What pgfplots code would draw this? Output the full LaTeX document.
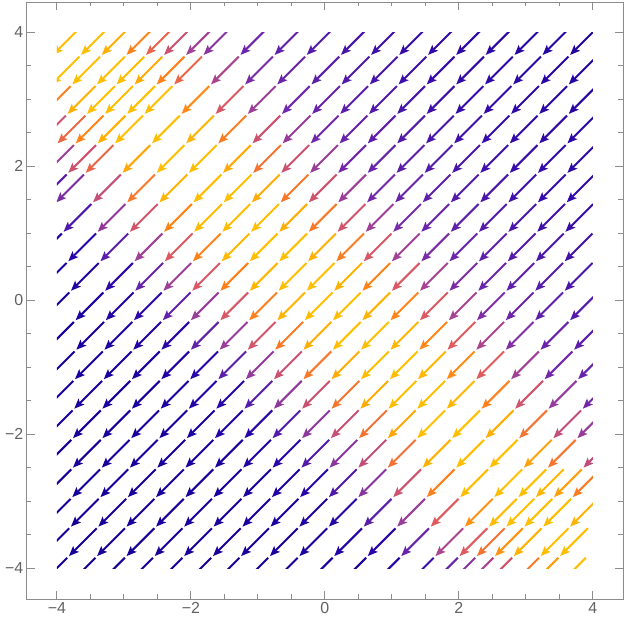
\documentclass[border=0pt]{standalone}
\usepackage{fontspec}
\setmainfont{Liberation Sans}
\usepackage{pgfplots}
\pgfplotsset{compat=1.18}
\usepackage{pgfplotstable}
\usetikzlibrary{arrows.meta}

% arrow tips of the stream lines: x y (tip) and m = x+y at the segment middle
\pgfplotstableread{
x y m
-4.06 3.66 0.00
-4.08 3.22 -0.46
-3.64 3.66 0.42
-4.21 2.78 -1.03
-3.77 3.22 -0.15
-3.33 3.66 0.73
-4.28 2.34 -1.54
-3.84 2.78 -0.66
-3.40 3.22 0.22
-2.96 3.66 1.10
-3.99 2.34 -1.25
-3.55 2.78 -0.37
-3.11 3.22 0.51
-2.67 3.66 1.39
-4.16 1.90 -1.86
-3.72 2.34 -0.98
-3.28 2.78 -0.10
-2.84 3.22 0.78
-2.40 3.66 1.66
-4.27 1.46 -2.41
-3.83 1.90 -1.53
-3.39 2.34 -0.65
-2.95 2.78 0.23
-2.51 3.22 1.11
-2.07 3.66 1.99
-4.01 1.46 -2.15
-3.57 1.90 -1.27
-3.13 2.34 -0.39
-2.69 2.78 0.49
-2.25 3.22 1.37
-1.81 3.66 2.25
-4.34 0.58 -3.36
-3.90 1.02 -2.48
-3.46 1.46 -1.60
-3.02 1.90 -0.72
-2.58 2.34 0.16
-2.14 2.78 1.04
-1.70 3.22 1.92
-1.26 3.66 2.80
-4.27 0.14 -3.73
-3.83 0.58 -2.85
-3.39 1.02 -1.97
-2.95 1.46 -1.09
-2.51 1.90 -0.21
-2.07 2.34 0.67
-1.63 2.78 1.55
-1.19 3.22 2.43
-0.75 3.66 3.31
-4.23 -0.30 -4.13
-3.79 0.14 -3.25
-3.35 0.58 -2.37
-2.91 1.02 -1.49
-2.47 1.46 -0.61
-2.03 1.90 0.27
-1.59 2.34 1.15
-1.15 2.78 2.03
-0.71 3.22 2.91
-0.27 3.66 3.79
-4.16 -0.74 -4.50
-3.72 -0.30 -3.62
-3.28 0.14 -2.74
-2.84 0.58 -1.86
-2.40 1.02 -0.98
-1.96 1.46 -0.10
-1.52 1.90 0.78
-1.08 2.34 1.66
-0.64 2.78 2.54
-0.20 3.22 3.42
0.24 3.66 4.30
-4.15 -1.18 -4.93
-3.71 -0.74 -4.05
-3.27 -0.30 -3.17
-2.83 0.14 -2.29
-2.39 0.58 -1.41
-1.95 1.02 -0.53
-1.51 1.46 0.35
-1.07 1.90 1.23
-0.63 2.34 2.11
-0.19 2.78 2.99
0.25 3.22 3.87
0.69 3.66 4.75
-4.17 -1.62 -5.39
-3.73 -1.18 -4.51
-3.29 -0.74 -3.63
-2.85 -0.30 -2.75
-2.41 0.14 -1.87
-1.97 0.58 -0.99
-1.53 1.02 -0.11
-1.09 1.46 0.77
-0.65 1.90 1.65
-0.21 2.34 2.53
0.23 2.78 3.41
0.67 3.22 4.29
1.11 3.66 5.17
-4.18 -2.06 -5.84
-3.74 -1.62 -4.96
-3.30 -1.18 -4.08
-2.86 -0.74 -3.20
-2.42 -0.30 -2.32
-1.98 0.14 -1.44
-1.54 0.58 -0.56
-1.10 1.02 0.32
-0.66 1.46 1.20
-0.22 1.90 2.08
0.22 2.34 2.96
0.66 2.78 3.84
1.10 3.22 4.72
1.54 3.66 5.60
-4.20 -2.50 -6.30
-3.76 -2.06 -5.42
-3.32 -1.62 -4.54
-2.88 -1.18 -3.66
-2.44 -0.74 -2.78
-2.00 -0.30 -1.90
-1.56 0.14 -1.02
-1.12 0.58 -0.14
-0.68 1.02 0.74
-0.24 1.46 1.62
0.20 1.90 2.50
0.64 2.34 3.38
1.08 2.78 4.26
1.52 3.22 5.14
1.96 3.66 6.02
-4.20 -2.94 -6.74
-3.76 -2.50 -5.86
-3.32 -2.06 -4.98
-2.88 -1.62 -4.10
-2.44 -1.18 -3.22
-2.00 -0.74 -2.34
-1.56 -0.30 -1.46
-1.12 0.14 -0.58
-0.68 0.58 0.30
-0.24 1.02 1.18
0.20 1.46 2.06
0.64 1.90 2.94
1.08 2.34 3.82
1.52 2.78 4.70
1.96 3.22 5.58
2.40 3.66 6.46
-4.21 -3.38 -7.19
-3.77 -2.94 -6.31
-3.33 -2.50 -5.43
-2.89 -2.06 -4.55
-2.45 -1.62 -3.67
-2.01 -1.18 -2.79
-1.57 -0.74 -1.91
-1.13 -0.30 -1.03
-0.69 0.14 -0.15
-0.25 0.58 0.73
0.19 1.02 1.61
0.63 1.46 2.49
1.07 1.90 3.37
1.51 2.34 4.25
1.95 2.78 5.13
2.39 3.22 6.01
2.83 3.66 6.89
-4.23 -3.82 -7.65
-3.79 -3.38 -6.77
-3.35 -2.94 -5.89
-2.91 -2.50 -5.01
-2.47 -2.06 -4.13
-2.03 -1.62 -3.25
-1.59 -1.18 -2.37
-1.15 -0.74 -1.49
-0.71 -0.30 -0.61
-0.27 0.14 0.27
0.17 0.58 1.15
0.61 1.02 2.03
1.05 1.46 2.91
1.49 1.90 3.79
1.93 2.34 4.67
2.37 2.78 5.55
2.81 3.22 6.43
3.25 3.66 7.31
-4.26 -4.26 -8.12
-3.82 -3.82 -7.24
-3.38 -3.38 -6.36
-2.94 -2.94 -5.48
-2.50 -2.50 -4.60
-2.06 -2.06 -3.72
-1.62 -1.62 -2.84
-1.18 -1.18 -1.96
-0.74 -0.74 -1.08
-0.30 -0.30 -0.20
0.14 0.14 0.68
0.58 0.58 1.56
1.02 1.02 2.44
1.46 1.46 3.32
1.90 1.90 4.20
2.34 2.34 5.08
2.78 2.78 5.96
3.22 3.22 6.84
3.66 3.66 7.72
-3.84 -4.26 -7.70
-3.40 -3.82 -6.82
-2.96 -3.38 -5.94
-2.52 -2.94 -5.06
-2.08 -2.50 -4.18
-1.64 -2.06 -3.30
-1.20 -1.62 -2.42
-0.76 -1.18 -1.54
-0.32 -0.74 -0.66
0.12 -0.30 0.22
0.56 0.14 1.10
1.00 0.58 1.98
1.44 1.02 2.86
1.88 1.46 3.74
2.32 1.90 4.62
2.76 2.34 5.50
3.20 2.78 6.38
3.64 3.22 7.26
-3.40 -4.26 -7.26
-2.96 -3.82 -6.38
-2.52 -3.38 -5.50
-2.08 -2.94 -4.62
-1.64 -2.50 -3.74
-1.20 -2.06 -2.86
-0.76 -1.62 -1.98
-0.32 -1.18 -1.10
0.12 -0.74 -0.22
0.56 -0.30 0.66
1.00 0.14 1.54
1.44 0.58 2.42
1.88 1.02 3.30
2.32 1.46 4.18
2.76 1.90 5.06
3.20 2.34 5.94
3.64 2.78 6.82
-2.98 -4.26 -6.84
-2.54 -3.82 -5.96
-2.10 -3.38 -5.08
-1.66 -2.94 -4.20
-1.22 -2.50 -3.32
-0.78 -2.06 -2.44
-0.34 -1.62 -1.56
0.10 -1.18 -0.68
0.54 -0.74 0.20
0.98 -0.30 1.08
1.42 0.14 1.96
1.86 0.58 2.84
2.30 1.02 3.72
2.74 1.46 4.60
3.18 1.90 5.48
3.62 2.34 6.36
-2.54 -4.26 -6.40
-2.10 -3.82 -5.52
-1.66 -3.38 -4.64
-1.22 -2.94 -3.76
-0.78 -2.50 -2.88
-0.34 -2.06 -2.00
0.10 -1.62 -1.12
0.54 -1.18 -0.24
0.98 -0.74 0.64
1.42 -0.30 1.52
1.86 0.14 2.40
2.30 0.58 3.28
2.74 1.02 4.16
3.18 1.46 5.04
3.62 1.90 5.92
-2.11 -4.26 -5.97
-1.67 -3.82 -5.09
-1.23 -3.38 -4.21
-0.79 -2.94 -3.33
-0.35 -2.50 -2.45
0.09 -2.06 -1.57
0.53 -1.62 -0.69
0.97 -1.18 0.19
1.41 -0.74 1.07
1.85 -0.30 1.95
2.29 0.14 2.83
2.73 0.58 3.71
3.17 1.02 4.59
3.61 1.46 5.47
-1.69 -4.26 -5.55
-1.25 -3.82 -4.67
-0.81 -3.38 -3.79
-0.37 -2.94 -2.91
0.07 -2.50 -2.03
0.51 -2.06 -1.15
0.95 -1.62 -0.27
1.39 -1.18 0.61
1.83 -0.74 1.49
2.27 -0.30 2.37
2.71 0.14 3.25
3.15 0.58 4.13
3.59 1.02 5.01
-1.26 -4.26 -5.12
-0.82 -3.82 -4.24
-0.38 -3.38 -3.36
0.06 -2.94 -2.48
0.50 -2.50 -1.60
0.94 -2.06 -0.72
1.38 -1.62 0.16
1.82 -1.18 1.04
2.26 -0.74 1.92
2.70 -0.30 2.80
3.14 0.14 3.68
3.58 0.58 4.56
-0.82 -4.26 -4.68
-0.38 -3.82 -3.80
0.06 -3.38 -2.92
0.50 -2.94 -2.04
0.94 -2.50 -1.16
1.38 -2.06 -0.28
1.82 -1.62 0.60
2.26 -1.18 1.48
2.70 -0.74 2.36
3.14 -0.30 3.24
3.58 0.14 4.12
-0.30 -4.26 -4.16
0.14 -3.82 -3.28
0.58 -3.38 -2.40
1.02 -2.94 -1.52
1.46 -2.50 -0.64
1.90 -2.06 0.24
2.34 -1.62 1.12
2.78 -1.18 2.00
3.22 -0.74 2.88
3.66 -0.30 3.76
0.20 -4.26 -3.66
0.64 -3.82 -2.78
1.08 -3.38 -1.90
1.52 -2.94 -1.02
1.96 -2.50 -0.14
2.40 -2.06 0.74
2.84 -1.62 1.62
3.28 -1.18 2.50
3.72 -0.74 3.38
0.70 -4.26 -3.16
1.14 -3.82 -2.28
1.58 -3.38 -1.40
2.02 -2.94 -0.52
2.46 -2.50 0.36
2.90 -2.06 1.24
3.34 -1.62 2.12
3.78 -1.18 3.00
1.21 -4.26 -2.65
1.65 -3.82 -1.77
2.09 -3.38 -0.89
2.53 -2.94 -0.01
2.97 -2.50 0.87
3.41 -2.06 1.75
3.85 -1.62 2.63
1.57 -4.26 -2.29
2.01 -3.82 -1.41
2.45 -3.38 -0.53
2.89 -2.94 0.35
3.33 -2.50 1.23
3.77 -2.06 2.11
1.83 -4.26 -2.03
2.27 -3.82 -1.15
2.71 -3.38 -0.27
3.15 -2.94 0.61
2.10 -4.26 -1.76
2.54 -3.82 -0.88
2.98 -3.38 0.00
3.42 -2.94 0.88
3.86 -2.50 1.76
2.38 -4.26 -1.48
2.82 -3.82 -0.60
3.26 -3.38 0.28
3.70 -2.94 1.16
2.78 -4.26 -1.08
3.22 -3.82 -0.20
3.66 -3.38 0.68
3.07 -4.26 -0.79
3.51 -3.82 0.09
3.48 -4.26 -0.38
}\streams

\begin{document}
\begin{tikzpicture}[x=1bp,y=1bp]
  % frame with ticks
  \begin{axis}[
    scale only axis,
    width=596.3bp, height=597bp,
    at={(0,0)}, anchor=south west,
    xmin=-4.45, xmax=4.45, ymin=-4.46, ymax=4.45,
    xtick={-4,-2,0,2,4}, ytick={-4,-2,0,2,4},
    xticklabels={−4,−2,0,2,4}, yticklabels={−4,−2,0,2,4},
    minor tick num=3,
    tick align=inside,
    major tick length=8bp, minor tick length=4.5bp,
    axis line style={draw=black!45, line width=0.8bp},
    every tick/.style={draw=black!45, line width=0.8bp},
    tick label style={font=\fontsize{16}{19}\selectfont, text=black!62},
  ]
  \end{axis}
  % stream arrows, clipped to the data square
  \begin{axis}[
    scale only axis,
    width=536bp, height=536bp,
    at={(30.15bp,30.82bp)}, anchor=south west,
    xmin=-4, xmax=4, ymin=-4, ymax=4,
    hide axis,
    point meta min=-8.2, point meta max=8.2,
    colormap={stream}{
      rgb255(0cm)=(20,0,150) rgb255(4.2cm)=(25,0,158) rgb255(5.4cm)=(40,5,170)
      rgb255(5.9cm)=(100,35,170) rgb255(6.35cm)=(160,65,150) rgb255(6.8cm)=(222,90,95)
      rgb255(7.2cm)=(255,130,25) rgb255(7.5cm)=(255,170,5) rgb255(7.7cm)=(255,190,0)
      rgb255(8.7cm)=(255,190,0) rgb255(9.0cm)=(255,170,5) rgb255(9.3cm)=(255,130,25)
      rgb255(9.7cm)=(222,90,95) rgb255(10.2cm)=(160,65,150) rgb255(10.7cm)=(115,40,170)
      rgb255(11.7cm)=(90,30,170) rgb255(13.2cm)=(55,12,170) rgb255(16.4cm)=(30,2,160)
    },
  ]
    \addplot[
      quiver={u=0.415, v=0.415, colored=mapped color,
        every arrow/.append style={line width=2bp,
          {Stealth[length=10bp,width=8bp,inset=2bp]}-}},
      point meta=\thisrow{m},
    ] table[x=x, y=y] {\streams};
  \end{axis}
  \pgfresetboundingbox
  \path (-26.7bp,-27bp) rectangle (599.3bp,599bp);
\end{tikzpicture}
\end{document}
